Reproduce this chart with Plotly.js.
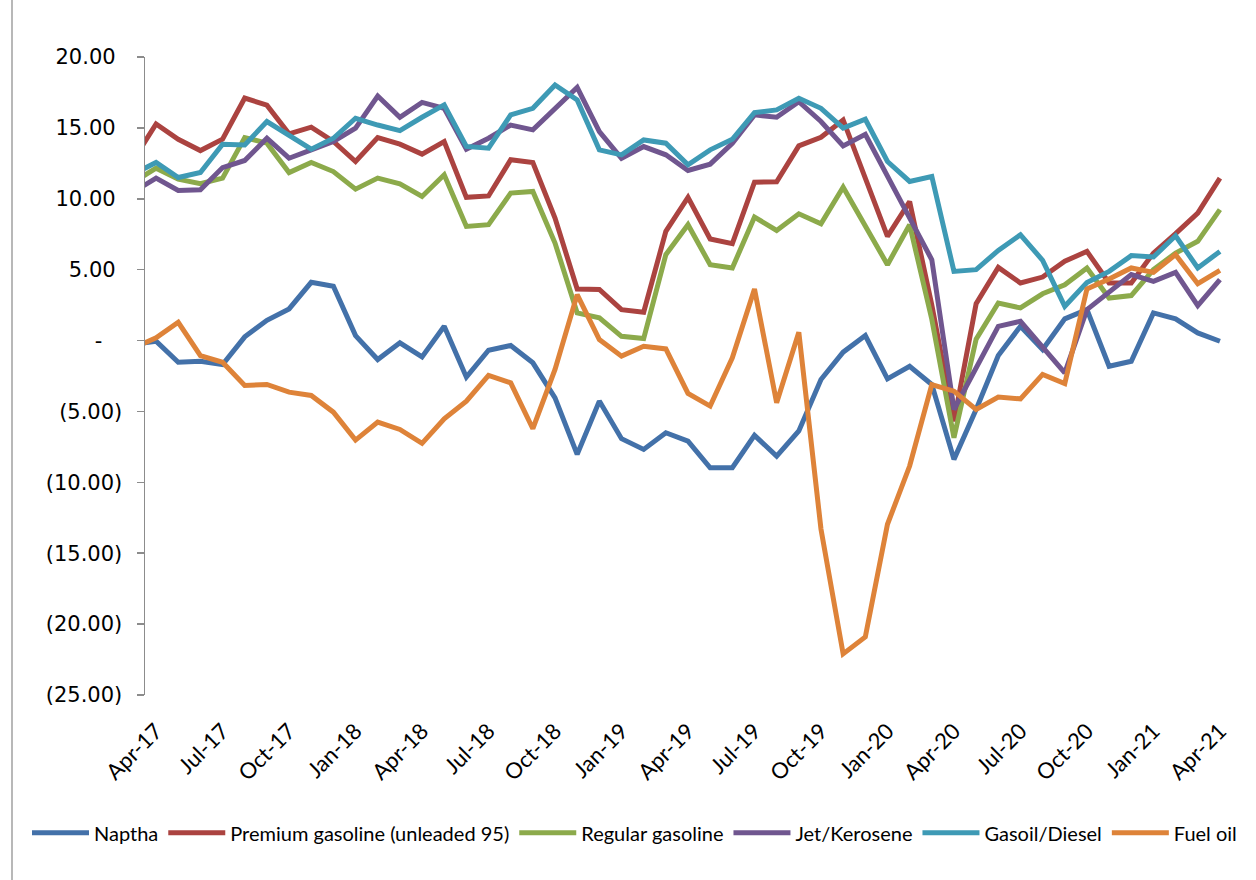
<!DOCTYPE html>
<html>
<head>
<meta charset="utf-8">
<script src="https://cdn.plot.ly/plotly-3.0.1.min.js"></script>
<style>
  html, body { margin: 0; padding: 0; background: #ffffff; }
  #chart { width: 1256px; height: 880px; }
</style>
</head>
<body>
<div id="chart"></div>
<script>
// Months (first one, Mar-17, lies just outside the plotted range and is clipped)
const months = ['Mar-17',
  'Apr-17','May-17','Jun-17','Jul-17','Aug-17','Sep-17','Oct-17','Nov-17','Dec-17',
  'Jan-18','Feb-18','Mar-18','Apr-18','May-18','Jun-18','Jul-18','Aug-18','Sep-18','Oct-18','Nov-18','Dec-18',
  'Jan-19','Feb-19','Mar-19','Apr-19','May-19','Jun-19','Jul-19','Aug-19','Sep-19','Oct-19','Nov-19','Dec-19',
  'Jan-20','Feb-20','Mar-20','Apr-20','May-20','Jun-20','Jul-20','Aug-20','Sep-20','Oct-20','Nov-20','Dec-20',
  'Jan-21','Feb-21','Mar-21','Apr-21'];

const tickLabels = ['Apr-17','Jul-17','Oct-17','Jan-18','Apr-18','Jul-18','Oct-18','Jan-19','Apr-19',
  'Jul-19','Oct-19','Jan-20','Apr-20','Jul-20','Oct-20','Jan-21','Apr-21'];

const yTicks = [20, 15, 10, 5, 0, -5, -10, -15, -20, -25];

const naptha = [-0.27,
  -0.05, -1.53, -1.46, -1.69, 0.26, 1.43, 2.23, 4.11, 3.83,
  0.35, -1.34, -0.16, -1.15, 1.01, -2.58, -0.68, -0.35, -1.57, -4.04, -8.03, -4.27,
  -6.92, -7.68, -6.5, -7.09, -8.97, -8.97, -6.69, -8.15, -6.38, -2.75, -0.82, 0.35,
  -2.7, -1.81, -3.1, -8.38, -4.86, -1.06, 1.01, -0.63, 1.53, 2.18, -1.81, -1.46,
  1.95, 1.53, 0.54, -0.05];

const premium = [12.8,
  15.28, 14.2, 13.4, 14.2, 17.1, 16.6, 14.58, 15.05, 14.04,
  12.63, 14.32, 13.85, 13.15, 14.04, 10.1, 10.2, 12.75, 12.56, 8.64, 3.64, 3.6,
  2.18, 2.0, 7.7, 10.1, 7.16, 6.83, 11.17, 11.2, 13.73, 14.34, 15.56, 11.4,
  7.35, 9.8, 2.5, -5.7, 2.6, 5.16, 4.06, 4.48, 5.59, 6.29, 4.06, 4.06,
  6.17, 7.54, 8.99, 11.46];

const regular = [11.2,
  12.16, 11.38, 11.06, 11.46, 14.32, 13.92, 11.85, 12.56, 11.92,
  10.68, 11.46, 11.06, 10.16, 11.69, 8.05, 8.17, 10.4, 10.52, 6.88, 1.95, 1.6,
  0.3, 0.14, 6.06, 8.17, 5.35, 5.12, 8.71, 7.77, 8.94, 8.24, 10.82, 8.1,
  5.35, 8.17, 1.5, -6.85, 0.1, 2.65, 2.3, 3.3, 3.94, 5.12, 3.0, 3.17,
  5.0, 6.17, 7.0, 9.23];

const jet = [10.5,
  11.46, 10.59, 10.63, 12.2, 12.7, 14.27, 12.86, 13.45, 14.04,
  14.98, 17.25, 15.75, 16.8, 16.38, 13.5, 14.27, 15.2, 14.86, 16.38, 17.86, 14.74,
  12.86, 13.68, 13.1, 12.0, 12.44, 13.92, 15.92, 15.75, 16.85, 15.45, 13.73, 14.55,
  11.57, 8.64, 5.7, -4.86, -1.9, 1.0, 1.36, -0.52, -2.28, 2.18, 3.36, 4.65,
  4.18, 4.81, 2.46, 4.3];

const gasoil = [11.76,
  12.56, 11.5, 11.85, 13.85, 13.8, 15.45, 14.44, 13.5, 14.27,
  15.68, 15.2, 14.81, 15.75, 16.62, 13.69, 13.57, 15.92, 16.38, 18.03, 16.97, 13.45,
  13.1, 14.15, 13.92, 12.39, 13.45, 14.2, 16.08, 16.27, 17.09, 16.38, 14.98, 15.61,
  12.63, 11.22, 11.57, 4.88, 5.0, 6.36, 7.46, 5.66, 2.42, 4.1, 4.88, 5.99,
  5.89, 7.39, 5.12, 6.29];

const fuelOil = [-0.51,
  0.19, 1.29, -1.06, -1.53, -3.17, -3.1, -3.64, -3.87, -5.05,
  -7.02, -5.75, -6.27, -7.25, -5.52, -4.27, -2.46, -2.98, -6.22, -2.04, 3.24, 0.07,
  -1.1, -0.4, -0.59, -3.73, -4.62, -1.22, 3.64, -4.39, 0.59, -13.3, -22.1, -20.9,
  -12.96, -8.85, -3.1, -3.57, -4.86, -3.99, -4.11, -2.39, -3.03, 3.64, 4.34, 5.12,
  4.81, 6.06, 4.01, 4.95];

const seriesNames = ['Naptha', 'Premium gasoline (unleaded 95)', 'Regular gasoline',
  'Jet/Kerosene', 'Gasoil/Diesel', 'Fuel oil'];
const seriesValues = [naptha, premium, regular, jet, gasoil, fuelOil];
const seriesColors = ['#4371A9', '#AB4340', '#8CAA4B', '#70568F', '#3E9AB5', '#DE8339'];

const xIdx = months.map((m, i) => i);
const NBSP = '\u00a0';
function fmt(v) {
  if (v === 0) return '-' + NBSP + NBSP + NBSP;
  if (v < 0) return '(' + Math.abs(v).toFixed(2) + ')';
  return v.toFixed(2) + NBSP;
}

const traces = seriesNames.map((name, k) => ({
  type: 'scatter',
  mode: 'lines',
  name: name,
  x: xIdx,
  y: seriesValues[k],
  line: { color: seriesColors[k], width: 5 },
  hoverinfo: 'x+y+name'
}));

const xRange = [0.5, months.length - 0.5];
const grey = '#8c8c8c';

const layout = {
  width: 1256,
  height: 880,
  margin: { l: 145, r: 25, t: 57, b: 185, pad: 0 },
  paper_bgcolor: '#ffffff',
  plot_bgcolor: '#ffffff',
  showlegend: true,
  legend: {
    orientation: 'h',
    x: (27 - 145) / 1086, xanchor: 'left',
    y: -0.216, yanchor: 'middle',
    font: { family: 'Lato, Carlito, sans-serif', size: 20, color: '#000000' },
    itemwidth: 57,
    tracegroupgap: 0
  },
  xaxis: {
    type: 'linear',
    range: xRange,
    tickmode: 'array',
    tickvals: tickLabels.map(l => months.indexOf(l)),
    ticktext: tickLabels,
    tickangle: -45,
    ticks: '',
    showline: false,
    showgrid: false,
    zeroline: false,
    ticklabelstandoff: 18,
    tickfont: { family: 'Lato, Carlito, sans-serif', size: 22, color: '#000000' }
  },
  xaxis2: {
    type: 'linear',
    overlaying: 'x',
    anchor: 'free',
    position: (0 - (-25)) / 45,
    side: 'bottom',
    range: xRange,
    tickmode: 'linear',
    tick0: 0.5,
    dtick: 3,
    ticks: 'outside',
    ticklen: 6,
    tickwidth: 1.5,
    tickcolor: grey,
    showline: true,
    linecolor: grey,
    linewidth: 1.5,
    showticklabels: false,
    showgrid: false,
    zeroline: false
  },
  yaxis: {
    range: [-25, 20],
    tickmode: 'array',
    tickvals: yTicks,
    ticktext: yTicks.map(fmt),
    ticks: 'outside',
    ticklen: 7,
    tickwidth: 1.5,
    tickcolor: grey,
    showline: true,
    linecolor: grey,
    linewidth: 1.5,
    showgrid: false,
    zeroline: false,
    ticklabelstandoff: 10,
    tickfont: { family: 'DejaVu Sans, sans-serif', size: 21, color: '#000000' }
  },
  shapes: [{
    type: 'line',
    xref: 'paper', yref: 'paper',
    x0: (12 - 145) / 1086, x1: (12 - 145) / 1086,
    y0: (695 - 880) / 638, y1: (695 - 0) / 638,
    line: { color: '#a0a0a0', width: 1.5 },
    layer: 'below'
  }]
};

Plotly.newPlot('chart', traces, layout, { displayModeBar: false, staticPlot: true });
</script>
</body>
</html>
